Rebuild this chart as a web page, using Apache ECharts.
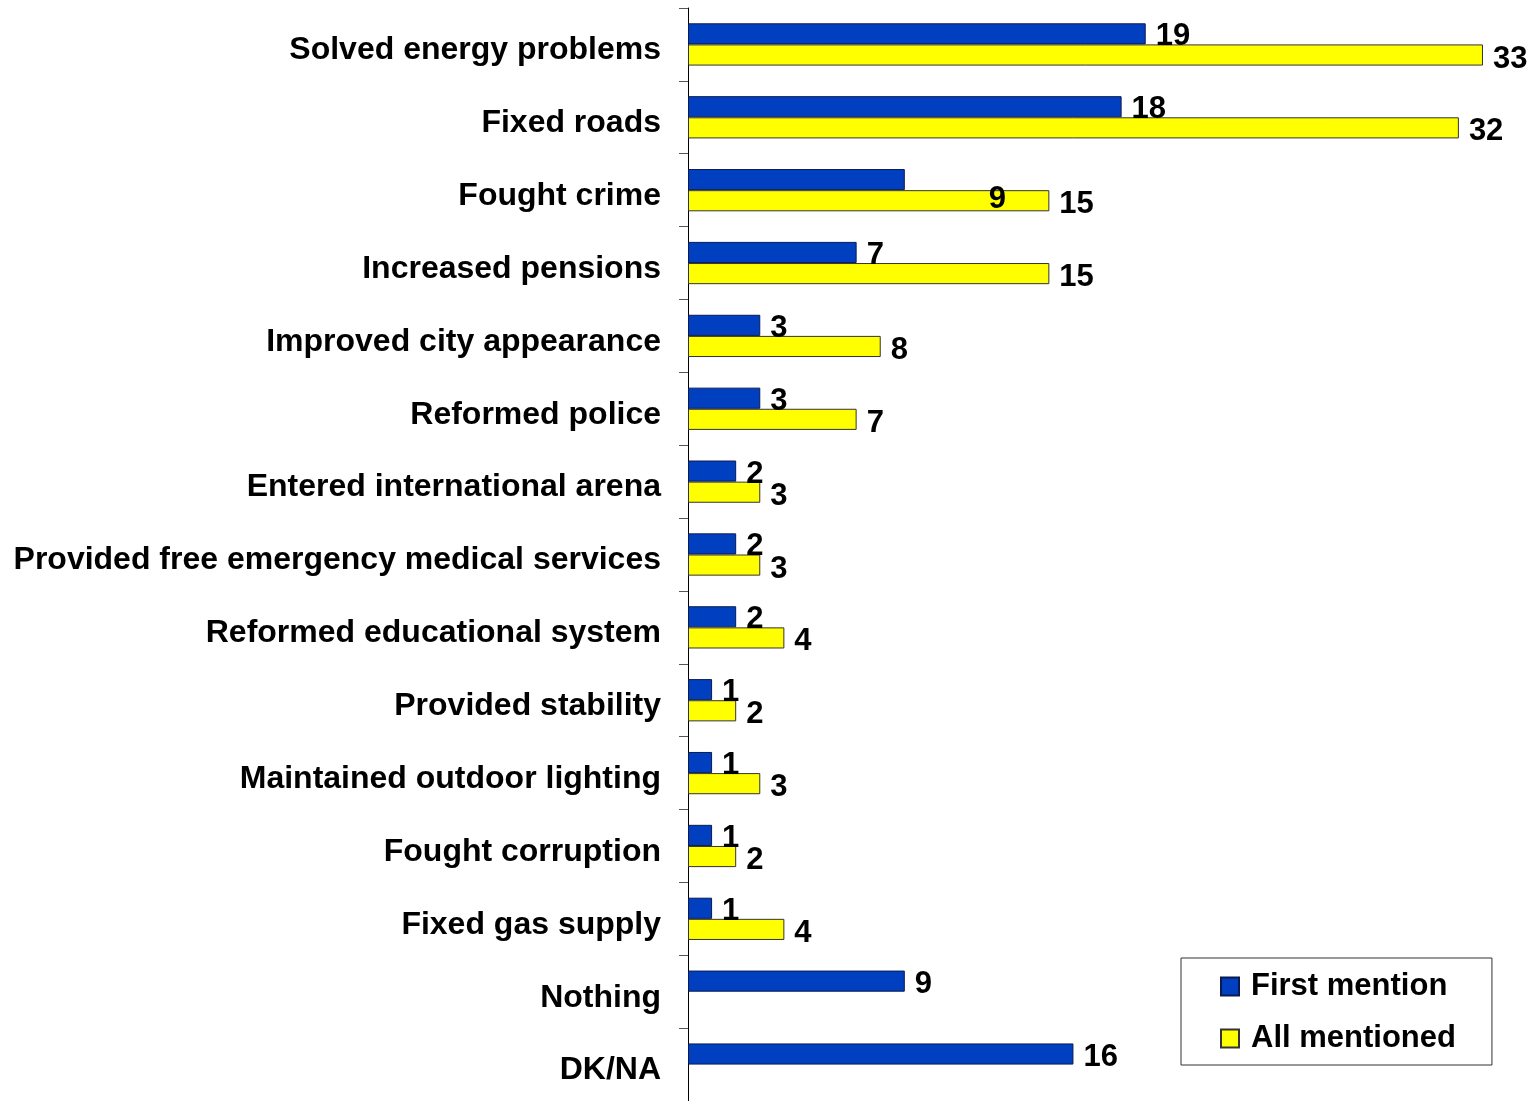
<!DOCTYPE html>
<html>
<head>
<meta charset="utf-8">
<script src="https://cdn.jsdelivr.net/npm/echarts@6/dist/echarts.min.js"></script>
<style>
html,body{margin:0;padding:0;background:#fff;}
#chart{width:1537px;height:1101px;}
</style>
</head>
<body>
<div id="chart"></div>
<script>
const categories = [
  "Solved energy problems",
  "Fixed roads",
  "Fought crime",
  "Increased pensions",
  "Improved city appearance",
  "Reformed police",
  "Entered international arena",
  "Provided free emergency medical services",
  "Reformed educational system",
  "Provided stability",
  "Maintained outdoor lighting",
  "Fought corruption",
  "Fixed gas supply",
  "Nothing",
  "DK/NA"
];
const firstMention = [19, 18, 9, 7, 3, 3, 2, 2, 2, 1, 1, 1, 1, 9, 16];
const allMentioned = [33, 32, 15, 15, 8, 7, 3, 3, 4, 2, 3, 2, 4, null, null];
const seriesNames = ["First mention", "All mentioned"];

const FONT = "'Liberation Sans', Arial, sans-serif";
const unit = 24.09;
const xMax = 35;

const firstData = firstMention.map((v, i) => {
  if (i === 2) {
    return { value: v, label: { offset: [74, 20] } };
  }
  return v;
});

const chart = echarts.init(document.getElementById('chart'), null, { renderer: 'canvas' });
chart.setOption({
  backgroundColor: '#ffffff',
  animation: false,
  grid: {
    left: 688,
    top: 8,
    width: unit * xMax,
    height: 1095,
    containLabel: false
  },
  legend: {
    orient: 'vertical',
    left: 1181,
    top: 958,
    padding: [13, 36, 11, 39],
    itemWidth: 18,
    itemHeight: 18,
    itemGap: 21,
    borderColor: '#333',
    borderWidth: 1,
    icon: 'rect',
    textStyle: {
      fontFamily: FONT,
      fontWeight: 'bold',
      fontSize: 31,
      color: '#000',
      padding: [0, 0, 0, 7]
    },
    data: seriesNames
  },
  xAxis: {
    type: 'value',
    min: 0,
    max: xMax,
    show: false,
    splitLine: { show: false }
  },
  yAxis: {
    type: 'category',
    inverse: true,
    data: categories,
    axisLine: { show: true, lineStyle: { color: '#000', width: 1 } },
    axisTick: { show: true, length: 9, lineStyle: { color: '#555' } },
    axisLabel: {
      margin: 27,
      color: '#000',
      formatter: function (v) { return '{a|' + v + '}'; },
      rich: {
        a: {
          fontFamily: FONT,
          fontWeight: 'bold',
          fontSize: 32,
          color: '#000',
          padding: [12, 0, 0, 0]
        }
      }
    }
  },
  series: [
    {
      name: seriesNames[0],
      type: 'bar',
      data: firstData,
      barCategoryGap: '42%',
      barGap: '0%',
      itemStyle: { color: '#0040C0', borderColor: '#0a1a50', borderWidth: 1 },
      label: {
        show: true,
        position: 'right',
        distance: 10,
        offset: [0, 3],
        fontFamily: FONT,
        fontWeight: 'bold',
        fontSize: 31,
        color: '#000'
      }
    },
    {
      name: seriesNames[1],
      type: 'bar',
      data: allMentioned,
      barCategoryGap: '42%',
      barGap: '0%',
      itemStyle: { color: '#FFFF00', borderColor: '#333', borderWidth: 1 },
      label: {
        show: true,
        position: 'right',
        distance: 10,
        offset: [0, 4],
        fontFamily: FONT,
        fontWeight: 'bold',
        fontSize: 31,
        color: '#000'
      }
    }
  ]
});
</script>
</body>
</html>
